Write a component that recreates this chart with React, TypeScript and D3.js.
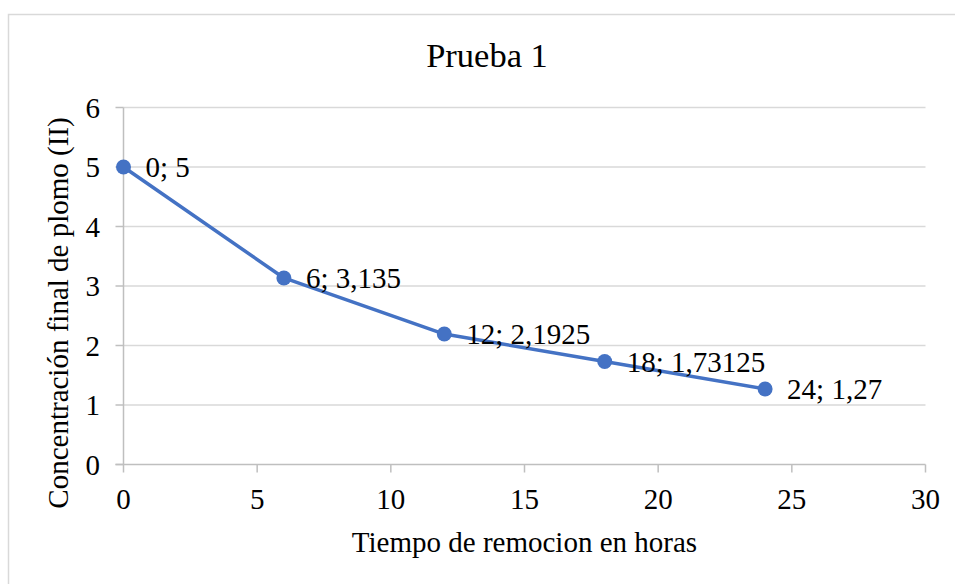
import React from "react";
import * as d3 from "d3";

const xValues = [0, 6, 12, 18, 24];
const yValues = [5, 3.135, 2.1925, 1.73125, 1.27];
const pointLabels = ["0; 5", "6; 3,135", "12; 2,1925", "18; 1,73125", "24; 1,27"];
const xTicks = [0, 5, 10, 15, 20, 25, 30];
const yTicks = [0, 1, 2, 3, 4, 5, 6];
const chartTitle = "Prueba 1";
const xTitle = "Tiempo de remocion en horas";
const yTitle = "Concentración final de plomo (II)";

const W = 955;
const H = 584;
const FONT = "Liberation Serif, Times New Roman, Times, DejaVu Serif, serif";

export default function App() {
  const x = d3.scaleLinear().domain([0, 30]).range([123.5, 925.5]);
  const y = d3.scaleLinear().domain([0, 6]).range([464.5, 107.5]);
  const line = d3
    .line<number>()
    .x((_, i) => x(xValues[i]))
    .y((d) => y(d));
  const path = line(yValues) || "";
  const grid = "#d9d9d9";
  const axis = "#bfbfbf";
  const ts = { fontFamily: FONT };
  const fs = 29;

  return (
    <svg
      width={W}
      height={H}
      style={{ position: "absolute", left: 0, top: 0, background: "#fff", fontFamily: FONT }}
    >
      <rect x={0} y={0} width={W} height={H} fill="#fff" />
      <rect x={8.5} y={14.5} width={W + 20} height={H + 20} fill="none" stroke={grid} strokeWidth={1.5} />

      <text x={487} y={67} textAnchor="middle" fontSize={34.5} fill="#000" style={ts}>
        {chartTitle}
      </text>

      {yTicks.map((t) =>
        t === 0 ? null : (
          <line key={"g" + t} x1={x(0)} x2={x(30)} y1={y(t)} y2={y(t)} stroke={grid} strokeWidth={1.5} />
        )
      )}
      {yTicks.map((t) => (
        <line key={"yt" + t} x1={x(0) - 8} x2={x(0)} y1={y(t)} y2={y(t)} stroke={axis} strokeWidth={1.5} />
      ))}
      {xTicks.map((t) => (
        <line key={"xt" + t} x1={x(t)} x2={x(t)} y1={y(0)} y2={y(0) + 8} stroke={axis} strokeWidth={1.5} />
      ))}
      <line x1={x(0)} x2={x(0)} y1={y(6)} y2={y(0)} stroke={axis} strokeWidth={1.5} />
      <line x1={x(0) - 8} x2={x(30)} y1={y(0)} y2={y(0)} stroke={axis} strokeWidth={1.5} />

      {yTicks.map((t) => (
        <text key={"yl" + t} x={100} y={y(t)} dy="0.35em" textAnchor="end" fontSize={fs} fill="#000" style={ts}>
          {t}
        </text>
      ))}
      {xTicks.map((t) => (
        <text key={"xl" + t} x={x(t)} y={509} textAnchor="middle" fontSize={fs} fill="#000" style={ts}>
          {t}
        </text>
      ))}

      <path d={path} fill="none" stroke="#4472C4" strokeWidth={3.5} strokeLinejoin="round" />
      {yValues.map((v, i) => (
        <circle key={"c" + i} cx={x(xValues[i])} cy={y(v)} r={7.5} fill="#4472C4" />
      ))}
      {yValues.map((v, i) => (
        <text
          key={"dl" + i}
          x={x(xValues[i]) + 22}
          y={y(v)}
          dy="0.36em"
          fontSize={fs}
          fill="#000"
          style={ts}
        >
          {pointLabels[i]}
        </text>
      ))}

      <text x={(x(0) + x(30)) / 2} y={552} textAnchor="middle" fontSize={fs} fill="#000" style={ts}>
        {xTitle}
      </text>
      <text
        transform={`translate(68, 313) rotate(-90)`}
        textAnchor="middle"
        fontSize={fs}
        fill="#000"
        style={ts}
      >
        {yTitle}
      </text>
    </svg>
  );
}
